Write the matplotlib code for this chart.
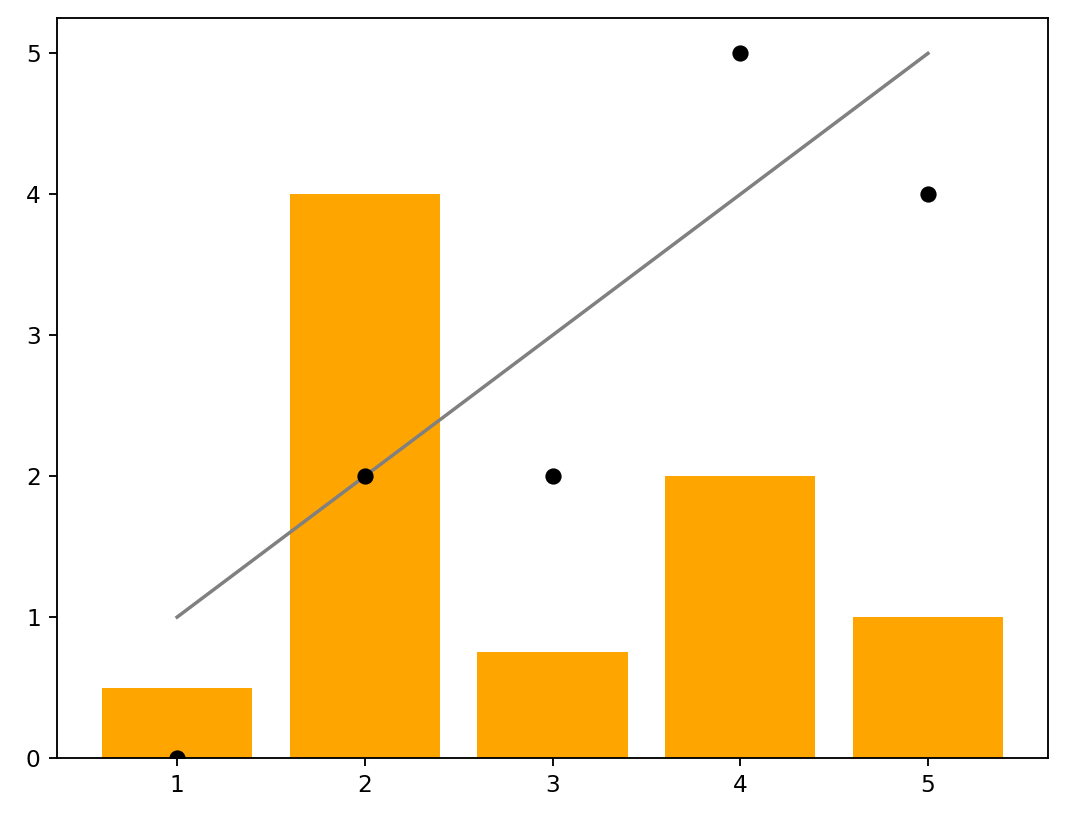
import matplotlib
matplotlib.use("Agg")
import matplotlib.pyplot as plt

x = [1, 2, 3, 4, 5]
bar_heights = [0.5, 4, 0.75, 2, 1]
dots = [0, 2, 2, 5, 4]
trend = [1, 2, 3, 4, 5]

fig, ax = plt.subplots(figsize=(1069 / 167, 826 / 167), dpi=167)
fig.subplots_adjust(left=0.0533, right=0.9804, top=0.978, bottom=0.0823)

ax.bar(x, bar_heights, color="orange")
ax.scatter(x, dots, color="black", zorder=3)
ax.plot(x, trend, color="gray")

fig.savefig("out.png", dpi=167)
